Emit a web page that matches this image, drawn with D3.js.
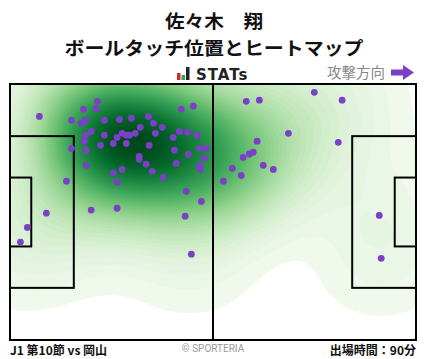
<!DOCTYPE html>
<html><head><meta charset="utf-8">
<script src="https://cdn.jsdelivr.net/npm/d3@7"></script>
<style>body{margin:0;background:#fff;}svg{display:block;font-family:"Noto Sans CJK JP","Noto Sans",sans-serif;}</style>
</head><body>
<script>
// touch positions in pitch metres (x: 0..105 towards attack, y: 0..68 from top)
const touchX = [7.6,22.6,19.0,22.3,15.9,18.4,19.5,24.4,28.3,31.4,35.8,37.1,39.4,44.3,47.4,33.7,21.0,19.5,24.4,29.0,27.7,30.1,30.9,32.4,37.6,43.8,45.9,48.4,42.2,19.2,26.7,30.1,23.4,36.0,15.9,19.7,42.5,49.0,50.8,33.4,33.4,46.1,50.2,19.7,35.2,43.0,49.0,49.2,29.0,26.7,36.8,39.6,14.6,27.7,45.6,49.5,21.0,27.7,9.4,45.3,4.5,2.7,46.9,61.1,64.5,78.7,85.9,72.0,63.9,84.9,62.9,61.9,60.3,65.5,68.1,57.5,59.8,55.2,95.5,96.0];
const touchY = [8.6,4.6,6.7,6.5,9.6,10.4,9.6,9.6,9.4,9.1,8.6,10.4,11.5,6.7,5.9,11.5,12.6,13.6,13.6,13.1,14.2,13.6,13.6,13.1,13.1,12.6,12.8,13.6,14.2,15.2,15.8,15.8,16.3,16.3,17.1,17.6,17.6,17.1,17.1,19.2,20.0,18.7,19.7,21.6,21.3,21.1,21.6,22.7,22.7,23.7,23.2,24.8,25.8,26.1,28.5,31.2,33.5,33.0,34.3,35.1,38.1,42.0,45.2,4.6,4.3,2.2,4.3,13.1,15.2,15.5,18.1,18.6,19.5,21.6,22.7,22.4,24.3,25.8,34.9,46.3];
const pitchLength = 105, pitchWidth = 68;
const titleLines = ["佐々木　翔", "ボールタッチ位置とヒートマップ"];
const matchLabel = "J1 第10節 vs 岡山";
const minutesLabel = "出場時間：90分";
const creditLabel = "© SPORTERIA";
const directionLabel = "攻撃方向";

const W = 428, H = 359;
const pL = 10, pR = 416, pT = 84, pB = 340;
const svg = d3.select("body").append("svg").attr("width", W).attr("height", H);
const x = d3.scaleLinear().domain([0, pitchLength]).range([pL, pR]);
const y = d3.scaleLinear().domain([0, pitchWidth]).range([pT, pB]);

// titles
const titleLen = [98, 299];
svg.selectAll("text.title").data(titleLines).join("text")
  .attr("x", 214).attr("y", (d, i) => 27.5 + i * 27)
  .attr("text-anchor", "middle").attr("font-size", 18.6).attr("font-weight", "bold").attr("fill", "#111")
  .attr("textLength", (d, i) => titleLen[i]).attr("lengthAdjust", "spacingAndGlyphs")
  .text(d => d);

// STATs logo
const logo = svg.append("g").attr("transform", "translate(177,67)");
logo.append("rect").attr("x", 0).attr("y", 6).attr("width", 3.5).attr("height", 7).attr("fill", "#d42a2a");
logo.append("rect").attr("x", 4.5).attr("y", 8).attr("width", 3.5).attr("height", 5).attr("fill", "#2aa84a");
logo.append("rect").attr("x", 9).attr("y", 0).attr("width", 3.5).attr("height", 13).attr("fill", "#222");
svg.append("text").attr("x", 196).attr("y", 80).attr("font-family", "'DejaVu Sans',sans-serif")
  .attr("font-size", 15).attr("font-weight", "bold").attr("fill", "#222").attr("letter-spacing", 1).text("STATs");

svg.append("text").attr("x", 385).attr("y", 78).attr("text-anchor", "end")
  .attr("font-size", 14.5).attr("fill", "#888").text(directionLabel);
svg.append("path").attr("d", "M391,69.5 H403 V65 L414,72.5 L403,80 V75.5 H391 Z").attr("fill", "#7b3fc4");

// heatmap
svg.append("clipPath").attr("id", "pc").append("rect")
  .attr("x", pL).attr("y", pT).attr("width", pR - pL).attr("height", pB - pT);
const pts = touchX.map((v, i) => [x(v), y(touchY[i])]);
const bw = 38;
const probe = d3.contourDensity().x(d => d[0]).y(d => d[1]).size([W, H]).bandwidth(bw).cellSize(2).thresholds(80)(pts);
const maxV = d3.max(probe, c => c.value);
const nLev = 50;
const thr = d3.range(nLev).map(i => maxV * (0.012 + 0.988 * i / nLev));
const contours = d3.contourDensity().x(d => d[0]).y(d => d[1]).size([W, H]).bandwidth(bw).cellSize(2).thresholds(thr)(pts);
const col = d3.scaleSequential(t => d3.interpolateGreens(0.05 + 0.95 * Math.pow(t, 0.85))).domain([thr[0], maxV]);
svg.append("g").attr("clip-path", "url(#pc)").selectAll("path").data(contours).join("path")
  .attr("d", d3.geoPath()).attr("fill", d => col(d.value));

// pitch lines
const lines = svg.append("g").attr("fill", "none").attr("stroke", "#000").attr("stroke-width", 2);
lines.append("rect").attr("x", x(0)).attr("y", y(0)).attr("width", x(pitchLength) - x(0)).attr("height", y(pitchWidth) - y(0));
lines.append("line").attr("x1", x(pitchLength / 2)).attr("x2", x(pitchLength / 2)).attr("y1", y(0)).attr("y2", y(pitchWidth));
const pbW = 16.5, pbH = 40.3, gaW = 5.5, gaH = 18.3;
[[0, 1], [pitchLength, -1]].forEach(([gx, s]) => {
  const bx = s > 0 ? x(gx) : x(gx - pbW);
  lines.append("rect").attr("x", bx).attr("y", y((pitchWidth - pbH) / 2)).attr("width", x(pbW) - x(0)).attr("height", y(pbH) - y(0));
  const gxp = s > 0 ? x(gx) : x(gx - gaW);
  lines.append("rect").attr("x", gxp).attr("y", y((pitchWidth - gaH) / 2)).attr("width", x(gaW) - x(0)).attr("height", y(gaH) - y(0));
});

// touches
svg.append("g").selectAll("circle").data(pts).join("circle")
  .attr("cx", d => d[0]).attr("cy", d => d[1]).attr("r", 3.4).attr("fill", "#7b3fc8");

// footer
svg.append("text").attr("x", 10).attr("y", 355).attr("font-size", 12).attr("font-weight", "bold").attr("fill", "#111").text(matchLabel);
svg.append("text").attr("x", 213).attr("y", 352).attr("text-anchor", "middle").attr("font-size", 10).attr("fill", "#999")
  .attr("font-family", "Roboto,sans-serif").text(creditLabel);
svg.append("text").attr("x", 416).attr("y", 355).attr("text-anchor", "end").attr("font-size", 12).attr("font-weight", "bold").attr("fill", "#111").text(minutesLabel);
</script>
</body></html>
